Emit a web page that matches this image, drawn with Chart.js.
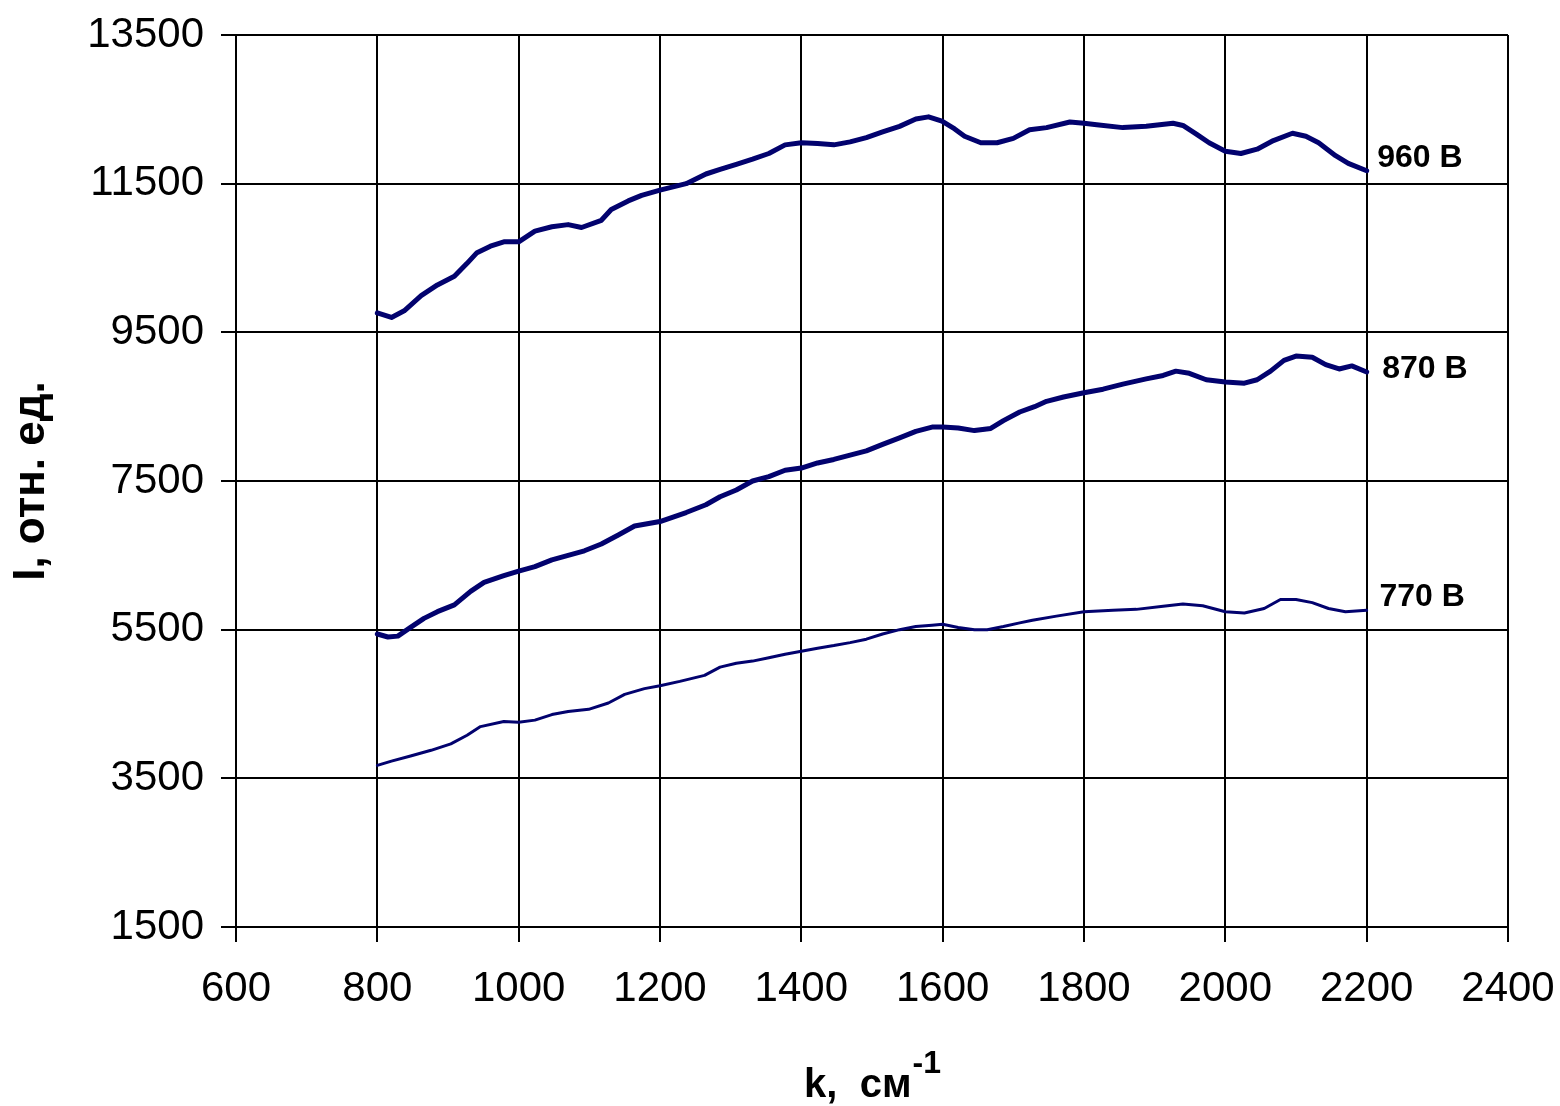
<!DOCTYPE html>
<html>
<head>
<meta charset="utf-8">
<script src="https://cdn.jsdelivr.net/npm/chart.js@4/dist/chart.umd.min.js"></script>
<style>
  html, body { margin: 0; padding: 0; background: #ffffff; }
  #wrap { width: 1560px; height: 1106px; }
</style>
</head>
<body>
<div id="wrap"><canvas id="c" width="1560" height="1106"></canvas></div>
<script>
// ---- data ----
const k960 = [800, 820, 838, 862, 885, 909, 927, 941, 960, 979, 1000, 1023, 1047, 1070, 1089, 1117, 1131, 1155, 1174, 1200, 1237, 1265, 1285, 1308, 1331, 1354, 1377, 1400, 1423, 1446, 1469, 1492, 1515, 1539, 1562, 1580, 1599, 1617, 1631, 1654, 1677, 1700, 1723, 1747, 1780, 1800, 1818, 1855, 1888, 1926, 1940, 1959, 1977, 2000, 2022, 2045, 2068, 2095, 2114, 2132, 2156, 2174, 2200];
const i960 = [9761, 9700, 9790, 9993, 10138, 10254, 10428, 10572, 10659, 10717, 10717, 10862, 10920, 10949, 10910, 11007, 11152, 11268, 11343, 11413, 11500, 11630, 11691, 11761, 11830, 11906, 12022, 12051, 12039, 12022, 12062, 12120, 12196, 12271, 12370, 12399, 12341, 12236, 12138, 12051, 12051, 12109, 12225, 12254, 12329, 12312, 12294, 12254, 12271, 12312, 12283, 12167, 12051, 11935, 11906, 11964, 12080, 12178, 12138, 12051, 11877, 11772, 11674];

const k870 = [800, 815, 829, 847, 866, 885, 909, 932, 951, 979, 1000, 1023, 1047, 1070, 1093, 1117, 1141, 1164, 1200, 1237, 1265, 1285, 1308, 1331, 1354, 1377, 1400, 1423, 1446, 1469, 1492, 1515, 1539, 1562, 1585, 1600, 1622, 1645, 1668, 1686, 1709, 1730, 1747, 1771, 1800, 1827, 1855, 1888, 1912, 1930, 1949, 1973, 2000, 2027, 2045, 2064, 2083, 2100, 2123, 2142, 2161, 2179, 2200];
const i870 = [5442, 5401, 5413, 5530, 5652, 5742, 5833, 6015, 6136, 6227, 6288, 6348, 6439, 6500, 6561, 6652, 6773, 6894, 6955, 7076, 7180, 7288, 7379, 7500, 7558, 7645, 7674, 7743, 7790, 7848, 7906, 7993, 8080, 8167, 8225, 8225, 8213, 8178, 8207, 8312, 8428, 8500, 8572, 8630, 8688, 8735, 8804, 8874, 8920, 8978, 8949, 8862, 8833, 8816, 8862, 8978, 9123, 9181, 9164, 9065, 9007, 9048, 8967];

const k770 = [800, 820, 847, 876, 904, 927, 946, 979, 1000, 1023, 1047, 1070, 1099, 1127, 1150, 1178, 1200, 1228, 1263, 1285, 1308, 1331, 1354, 1377, 1400, 1423, 1446, 1469, 1492, 1515, 1539, 1562, 1585, 1600, 1622, 1645, 1663, 1686, 1709, 1727, 1761, 1800, 1841, 1874, 1912, 1940, 1968, 2000, 2027, 2055, 2078, 2100, 2123, 2146, 2170, 2200];
const i770 = [3674, 3732, 3801, 3877, 3964, 4080, 4196, 4265, 4254, 4283, 4358, 4399, 4428, 4514, 4630, 4707, 4746, 4804, 4885, 4996, 5048, 5077, 5123, 5170, 5210, 5251, 5286, 5326, 5372, 5442, 5500, 5542, 5561, 5573, 5530, 5500, 5500, 5542, 5591, 5627, 5682, 5742, 5761, 5773, 5815, 5845, 5821, 5742, 5724, 5785, 5906, 5906, 5864, 5785, 5742, 5761];

const seriesNames = ['960 В', '870 В', '770 В'];
const labelK = [2215, 2222, 2218];
const labelI = [11842, 9008, 5943];

const xTitleMain = 'k,  см';
const xTitleSup = '-1';
const yTitle = 'I, отн. ед.';
const xMin = 600, xMax = 2400, xStep = 200;
const yMin = 1500, yMax = 13500, yStep = 2000;

// ---- build ----
function pts(ks, is) { return ks.map((k, j) => ({ x: k, y: is[j] })); }

const LINE = '#02026e';
const FONT = "'Liberation Sans', Arial, sans-serif";

const annotations = {
  id: 'annotations',
  afterDraw(chart) {
    const ctx = chart.ctx, xs = chart.scales.x, ys = chart.scales.y;
    ctx.save();
    ctx.fillStyle = '#000';
    // series labels
    ctx.font = 'bold 32px ' + FONT;
    ctx.textAlign = 'left';
    ctx.textBaseline = 'middle';
    seriesNames.forEach((t, j) => {
      ctx.fillText(t, xs.getPixelForValue(labelK[j]), ys.getPixelForValue(labelI[j]));
    });
    // x axis title with superscript
    const mainFont = 'bold 40px ' + FONT, supFont = 'bold 32px ' + FONT;
    ctx.font = mainFont;
    const wMain = ctx.measureText(xTitleMain).width;
    ctx.font = supFont;
    const wSup = ctx.measureText(xTitleSup).width;
    const cx = (chart.chartArea.left + chart.chartArea.right) / 2;
    const x0 = cx - (wMain + wSup) / 2;
    const base = 1097;
    ctx.textBaseline = 'alphabetic';
    ctx.font = mainFont;
    ctx.fillText(xTitleMain, x0, base);
    ctx.font = supFont;
    ctx.fillText(xTitleSup, x0 + wMain + 1, base - 24);
    ctx.restore();
  }
};

new Chart(document.getElementById('c'), {
  type: 'line',
  data: {
    datasets: [
      { label: seriesNames[0], data: pts(k960, i960), borderColor: LINE, borderWidth: 5 },
      { label: seriesNames[1], data: pts(k870, i870), borderColor: LINE, borderWidth: 5 },
      { label: seriesNames[2], data: pts(k770, i770), borderColor: LINE, borderWidth: 3 }
    ]
  },
  options: {
    responsive: false,
    animation: false,
    devicePixelRatio: 1,
    layout: { padding: { top: 35, right: 52, bottom: 0, left: 0 } },
    elements: { point: { radius: 0 }, line: { tension: 0, borderJoinStyle: 'round', borderCapStyle: 'round' } },
    plugins: { legend: { display: false }, tooltip: { enabled: false }, title: { display: false } },
    scales: {
      x: {
        type: 'linear', min: xMin, max: xMax,
        afterFit(s) { s.height = 1106 - 927; s.paddingLeft = 0; s.paddingRight = 0; s.paddingTop = 0; s.paddingBottom = 0; },
        ticks: { stepSize: xStep, color: '#000', font: { family: FONT, size: 42 }, padding: 22, maxRotation: 0,
                 callback: (v) => String(v) },
        grid: { color: '#000', lineWidth: 2, tickLength: 15, tickColor: '#000' },
        border: { color: '#000', width: 2 },
        title: { display: false }
      },
      y: {
        type: 'linear', min: yMin, max: yMax,
        afterFit(s) { s.width = 236; s.paddingLeft = 0; s.paddingRight = 0; s.paddingTop = 0; s.paddingBottom = 0; },
        ticks: { stepSize: yStep, color: '#000', font: { family: FONT, size: 42 }, padding: 17,
                 callback: (v) => String(v) },
        grid: { color: '#000', lineWidth: 2, tickLength: 15, tickColor: '#000' },
        border: { color: '#000', width: 2 },
        title: { display: true, text: yTitle, color: '#000', font: { family: FONT, size: 44, weight: 'bold', lineHeight: 1.2 }, padding: { top: 5, bottom: 4 } }
      }
    }
  },
  plugins: [annotations]
});
</script>
</body>
</html>
